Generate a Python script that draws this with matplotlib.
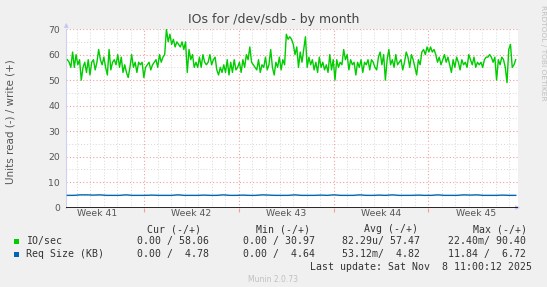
import matplotlib.pyplot as plt
import numpy as np
from matplotlib.patches import Rectangle

# IO/sec (write, +) sampled across the month, read side is zero
io_write = [58, 57, 55, 61, 55, 60, 56, 58, 50, 55, 57, 53, 58, 52, 57, 58, 54, 57, 62, 58,
            56, 59, 55, 52, 62, 54, 57, 58, 56, 60, 55, 59, 53, 56, 53, 51, 55, 60, 55, 57,
            53, 57, 56, 57, 51, 55, 56, 57, 54, 56, 57, 58, 55, 60, 57, 59, 60, 70, 65, 68,
            64, 66, 63, 65, 64, 63, 65, 62, 65, 53, 62, 58, 60, 55, 57, 55, 59, 55, 60, 57,
            56, 57, 60, 56, 58, 59, 54, 52, 55, 53, 56, 53, 58, 52, 57, 53, 58, 54, 55, 57,
            53, 58, 55, 60, 58, 63, 57, 56, 55, 54, 58, 53, 56, 55, 59, 54, 56, 62, 55, 52,
            57, 55, 59, 54, 58, 56, 68, 66, 67, 66, 64, 60, 63, 55, 61, 57, 62, 67, 55, 59,
            56, 58, 54, 57, 53, 59, 55, 57, 54, 56, 53, 60, 54, 58, 50, 58, 55, 57, 56, 62,
            58, 60, 54, 58, 56, 57, 52, 57, 55, 58, 53, 57, 56, 58, 54, 58, 57, 55, 54, 59,
            61, 56, 60, 50, 58, 62, 56, 58, 55, 60, 56, 57, 58, 54, 57, 61, 59, 55, 60, 58,
            55, 52, 58, 56, 61, 62, 60, 63, 61, 63, 61, 62, 60, 57, 59, 56, 58, 60, 57, 59,
            56, 53, 58, 55, 59, 57, 54, 58, 56, 57, 55, 60, 58, 56, 59, 55, 57, 56, 57, 55,
            58, 59, 59, 60, 59, 57, 59, 50, 58, 56, 59, 58, 55, 49, 62, 64, 55, 56, 58]
# Req Size (KB) write side
req_size = [4.8, 4.8, 5.0, 5.0, 4.9, 5.0, 4.8, 4.8, 4.8, 5.0, 4.8, 4.8, 4.8, 4.9, 4.8, 4.8,
            4.8, 5.0, 4.8, 4.8, 4.8, 4.9, 4.8, 4.8, 5.0, 4.8, 4.8, 4.9, 4.8, 4.8, 5.0, 4.9,
            4.8, 4.8, 4.8, 5.0, 4.8, 4.8, 4.8, 4.9, 4.8, 5.0, 4.8, 4.8, 4.8, 5.0, 4.8, 4.8,
            4.9, 4.8, 5.0, 4.8, 4.8, 4.8, 4.9, 4.8, 4.8, 5.0, 4.8, 4.8, 4.8, 5.0, 4.9, 5.0,
            4.8, 4.8, 4.8, 4.9, 4.8, 4.8]

week_starts = [0, 7, 14, 21]
week_labels = ["Week 41", "Week 42", "Week 43", "Week 44", "Week 45"]
week_mids = [-3.5, 3.5, 10.5, 17.5, 24.5]
t_first, t_last = -5.68, 27.46   # days relative to start of week 42

legend_names = ["IO/sec", "Req Size (KB)"]
legend_colors = ["#00CC00", "#0066B3"]
col_heads = ["Cur (-/+)", "Min (-/+)", "Avg (-/+)", "Max (-/+)"]
col_vals = [["0.00 / 58.06", "0.00 / 30.97", "82.29u/ 57.47", "22.40m/ 90.40"],
            ["0.00 /  4.78", "0.00 /  4.64", "53.12m/  4.82", "11.84 /  6.72"]]

W, H = 547, 287
fig = plt.figure(figsize=(W / 100, H / 100), dpi=100, facecolor="#F0F0F0")


def fx(x):
    return x / W


def fy(y):
    return 1 - y / H


x0, x1, ytop, ybot = 66.3, 518.0, 29.1, 207.6
ax = fig.add_axes([fx(x0), fy(ybot), (x1 - x0) / W, (ybot - ytop) / H])
ax.set_facecolor("white")
ax.set_xlim(-5.76, 27.63)
ax.set_ylim(0, 70)

# grid
for d in np.arange(-5, 28):
    if d not in week_starts:
        ax.axvline(d, color="#D8D8D8", ls=(0, (1, 2)), lw=0.7, zorder=0)
for d in week_starts:
    ax.axvline(d, color="#F0A0A0", ls=(0, (1, 2)), lw=0.8, zorder=0)
for y in range(5, 70, 10):
    ax.axhline(y, color="#D8D8D8", ls=(0, (1, 2)), lw=0.7, zorder=0)
for y in range(10, 71, 10):
    ax.axhline(y, color="#F0A0A0", ls=(0, (1, 2)), lw=0.8, zorder=0)

t = np.linspace(t_first, t_last, len(io_write))
ax.plot(t, io_write, color=legend_colors[0], lw=1.0, zorder=3)
tb = np.linspace(t_first, t_last, len(req_size))
ax.plot(tb, req_size, color=legend_colors[1], lw=1.0, zorder=3)
ax.axhline(0, color="black", lw=1.2, zorder=4)

for s in ["top", "right", "bottom"]:
    ax.spines[s].set_visible(False)
ax.spines["left"].set_color("#D0D0F0")
ax.set_xticks(week_starts)
ax.set_xticklabels([])
ax.tick_params(axis="x", length=3, color="#F0A0A0", width=0.8)
ax.set_yticks(range(0, 71, 10))
ax.tick_params(axis="y", length=0, pad=4.5, labelsize=6.7, labelcolor="#555555")

for m, lab in zip(week_mids, week_labels):
    xp = x0 + (m + 5.76) / (27.63 + 5.76) * (x1 - x0)
    fig.text(fx(xp), fy(213.1), lab, ha="center", va="center", fontsize=6.7, color="#555555")

# axis arrows
arrow = dict(arrowstyle="-|>", color="#C8C8F0", lw=0.8, mutation_scale=6)
ax.annotate("", xy=(fx(x0), fy(20)), xytext=(fx(x0), fy(30)), xycoords="figure fraction",
            textcoords="figure fraction", arrowprops=arrow)
ax.annotate("", xy=(fx(523), fy(ybot)), xytext=(fx(514), fy(ybot)), xycoords="figure fraction",
            textcoords="figure fraction", arrowprops=arrow)

fig.text(fx(273.5), fy(19.5), "IOs for /dev/sdb - by month", ha="center", va="center",
         fontsize=9, color="#444444")
fig.text(fx(10.5), fy(122), "Units read (-) / write (+)", rotation=90, ha="center",
         va="center", fontsize=7.5, color="#555555")
fig.text(fx(542.6), fy(5), "RRDTOOL / TOBI OETIKER", rotation=-90, ha="center", va="top",
         fontsize=5.4, color="#C0C0C0")

# legend block
mono = dict(family="DejaVu Sans Mono", fontsize=7.1, color="#333333", va="center")
head_x = [147.2, 255.8, 363.9, 472.8]
val_x = [137.1, 243.2, 342.3, 447.7]
for hx, h in zip(head_x, col_heads):
    fig.text(fx(hx), fy(229.2), h, ha="left", **mono)
for r, (name, col, vals) in enumerate(zip(legend_names, legend_colors, col_vals)):
    yy = 241.4 + r * 12.9
    fig.add_artist(Rectangle((fx(14), fy(yy + 2.5)), 5 / W, 5 / H, transform=fig.transFigure,
                             facecolor=col, edgecolor="none"))
    fig.text(fx(26.2), fy(yy), name, ha="left", **mono)
    for vx, v in zip(val_x, vals):
        fig.text(fx(vx), fy(yy), v, ha="left", **mono)
fig.text(fx(532.1), fy(267.2), "Last update: Sat Nov  8 11:00:12 2025", ha="right", **mono)
fig.text(fx(272.9), fy(279.8), "Munin 2.0.73", ha="center", va="center", fontsize=5.5,
         color="#C0C0C0")

fig.savefig("out.png", dpi=100, facecolor=fig.get_facecolor())
